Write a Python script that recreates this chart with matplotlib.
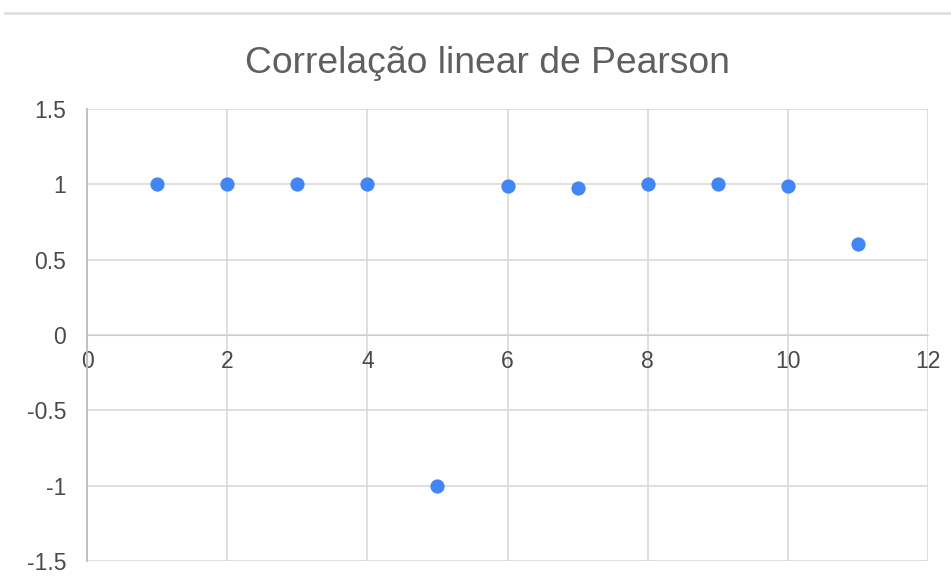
import matplotlib.pyplot as plt
from matplotlib.lines import Line2D

x = [1, 2, 3, 4, 5, 6, 7, 8, 9, 10, 11]
r = [1.0, 1.0, 1.0, 1.0, -1.0, 0.989, 0.974, 1.0, 1.0, 0.988, 0.603]
xticks = [0, 2, 4, 6, 8, 10, 12]
yticks = [-1.5, -1, -0.5, 0, 0.5, 1, 1.5]
ylabels = ['-1.5', '-1', '-0.5', '0', '0.5', '1', '1.5']

plt.rcParams['font.family'] = ['Liberation Sans', 'DejaVu Sans']

fig = plt.figure(figsize=(9.51, 5.83), dpi=100)
ax = fig.add_axes([0.0915, 0.0377, 0.8843, 0.7753])

ax.scatter(x, r, s=105, color='#4285F4', zorder=3, linewidths=0)

ax.set_xlim(0, 12)
ax.set_ylim(-1.5, 1.5)
ax.set_xticks(xticks)
ax.set_xticklabels([str(t) for t in xticks])
ax.set_yticks(yticks)
ax.set_yticklabels(ylabels)

ax.grid(True, color='#d9d9d9', lw=1.2, zorder=0)
ax.set_axisbelow(True)

ax.spines['bottom'].set_position(('data', 0))
ax.spines['bottom'].set_color('#cccccc')
ax.spines['left'].set_color('#bdbdbd')
ax.spines['left'].set_linewidth(1.3)
ax.spines['top'].set_visible(False)
ax.spines['right'].set_visible(False)

ax.tick_params(axis='both', length=0, labelsize=16.5, labelcolor='#4a4a4a')
ax.tick_params(axis='y', pad=15)
ax.tick_params(axis='x', pad=11)

fig.text(0.5126, 0.875, 'Correlação linear de Pearson', ha='center', va='baseline',
         fontsize=26.8, color='#5f5f5f')

fig.add_artist(Line2D([0.005, 1.0], [0.977, 0.977], color='#dddddd', lw=1.8,
                      transform=fig.transFigure))

fig.savefig('out.png', dpi=100, facecolor='white')
